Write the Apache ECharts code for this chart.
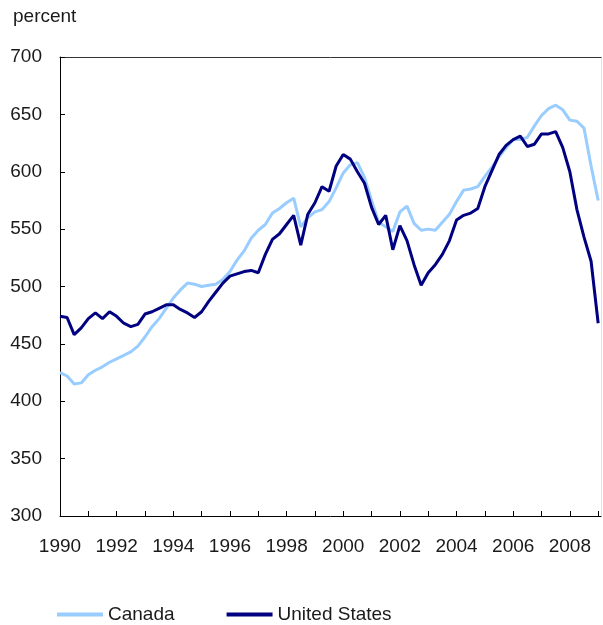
<!DOCTYPE html>
<html>
<head>
<meta charset="utf-8">
<script src="https://cdn.jsdelivr.net/npm/echarts@6/dist/echarts.min.js"></script>
<style>
  html, body { margin: 0; padding: 0; background: #fff; }
  #chart { width: 603px; height: 625px; }
</style>
</head>
<body>
<div id="chart"></div>
<script>
// Quarterly observations, 1990Q1 onward
const startYear = 1990;
const canada = [425,422,415,416,423,427,430,434,437,440,443,448,456,465,472,481,
  490,497,503,502,500,501,502,506,513,523,531,542,549,554,564,568,
  573,577,552,560,565,567,574,586,599,606,608,595,575,556,552,548,
  565,570,555,549,550,549,556,563,574,584,585,587,596,604,613,621,
  628,628,630,640,649,655,658,654,645,644,638,605,575];
const unitedStates = [474,473,458,464,472,477,472,478,474,468,465,467,476,478,481,484,
  484,480,477,473,478,487,495,503,509,511,513,514,512,528,541,546,
  554,562,536,563,573,587,583,605,615,611,600,590,569,554,562,532,
  553,540,519,501,512,519,528,540,558,562,564,568,587,601,615,623,
  628,631,622,624,633,633,635,621,600,567,543,522,468];
const yearTicks = [1990,1991,1992,1993,1994,1995,1996,1997,1998,1999,2000,2001,2002,2003,2004,2005,2006,2007,2008,2009];
const yearLabels = [1990,1992,1994,1996,1998,2000,2002,2004,2006,2008];

function toPairs(arr) {
  return arr.map((v, i) => [startYear + i / 4, v]);
}

const chart = echarts.init(document.getElementById('chart'));
const txt = '#1a1a1a';
const font = 'Liberation Sans, Arial, sans-serif';
chart.setOption({
  animation: false,
  backgroundColor: '#fff',
  textStyle: { fontFamily: font },
  title: {
    text: 'percent', left: 8, top: 2,
    textStyle: { fontSize: 19, fontWeight: 'normal', color: txt, fontFamily: font }
  },
  grid: { left: 60, right: 2, top: 57, bottom: 109 },
  legend: {
    left: 52, top: 600, itemWidth: 46, itemHeight: 4, itemGap: 52, icon: 'rect',
    textStyle: { fontSize: 19, color: txt, fontFamily: font },
    data: ['Canada', 'United States']
  },
  xAxis: [{
    type: 'value', min: 1990, max: 2009.1,
    axisLine: { show: true, lineStyle: { color: '#000', width: 1 } },
    axisTick: { show: true, inside: true, length: 5, customValues: yearTicks, lineStyle: { color: '#000' } },
    axisLabel: { customValues: yearLabels, margin: 21, fontSize: 19, color: txt, formatter: v => String(Math.round(v)) },
    splitLine: { show: false }
  }, {
    type: 'value', position: 'top', min: 1990, max: 2009.1,
    axisLine: { show: true, lineStyle: { color: '#333', width: 1 } },
    axisTick: { show: false }, axisLabel: { show: false }, splitLine: { show: false }
  }],
  yAxis: [{
    type: 'value', min: 300, max: 700, interval: 50,
    axisLine: { show: true, lineStyle: { color: '#000', width: 1 } },
    axisTick: { show: true, inside: true, length: 5, lineStyle: { color: '#000' } },
    axisLabel: { margin: 18, fontSize: 19, color: txt },
    splitLine: { show: false }
  }, {
    type: 'value', position: 'right', min: 300, max: 700,
    axisLine: { show: true, lineStyle: { color: '#e2e2e2', width: 1 } },
    axisTick: { show: false }, axisLabel: { show: false }, splitLine: { show: false }
  }],
  series: [{
    name: 'Canada', type: 'line', data: toPairs(canada),
    showSymbol: false, symbol: 'none',
    lineStyle: { color: '#99ccff', width: 3 }, itemStyle: { color: '#99ccff' }, z: 2
  }, {
    name: 'United States', type: 'line', data: toPairs(unitedStates),
    showSymbol: false, symbol: 'none',
    lineStyle: { color: '#000080', width: 3 }, itemStyle: { color: '#000080' }, z: 3
  }]
});
</script>
</body>
</html>
